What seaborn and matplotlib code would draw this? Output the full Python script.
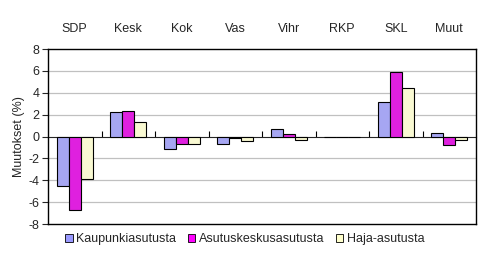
import matplotlib
matplotlib.use("Agg")
import matplotlib.pyplot as plt
import seaborn as sns
import pandas as pd
from matplotlib.patches import Patch

parties = ["SDP", "Kesk", "Kok", "Vas", "Vihr", "RKP", "SKL", "Muut"]
series_names = ["Kaupunkiasutusta", "Asutuskeskusasutusta", "Haja-asutusta"]
kaupunki = [-4.5, 2.25, -1.1, -0.65, 0.73, 0.0, 3.17, 0.33]
asutuskeskus = [-6.7, 2.35, -0.67, -0.1, 0.25, 0.0, 5.94, -0.76]
haja = [-3.9, 1.3, -0.65, -0.4, -0.3, 0.0, 4.45, -0.27]
colors = ["#9999FF", "#FF00FF", "#FFFFCC"]
yticks = [8, 6, 4, 2, 0, -2, -4, -6, -8]

sns.set_style("white")
plt.rcParams["font.family"] = ["Liberation Sans", "DejaVu Sans"]
plt.rcParams["axes.unicode_minus"] = False
FS = 9

rows = []
for name, vals in zip(series_names, [kaupunki, asutuskeskus, haja]):
    for p, v in zip(parties, vals):
        rows.append({"Puolue": p, "Alue": name, "Muutos": v})
df = pd.DataFrame(rows)

fig = plt.figure(figsize=(4.82, 2.57), dpi=100)
ax = fig.add_axes([0.0996, 0.128, 0.888, 0.681])

sns.barplot(data=df, x="Puolue", y="Muutos", hue="Alue", order=parties,
            hue_order=series_names, palette=colors, width=0.67, gap=0,
            edgecolor="black", linewidth=0.8, ax=ax, legend=False, errorbar=None)

ax.set_ylim(-8, 8)
ax.set_xlim(-0.5, len(parties) - 0.5)
ax.set_yticks(yticks)
ax.set_yticklabels([str(t) for t in yticks], fontsize=FS)
for t in yticks:
    if t not in (8, -8, 0):
        ax.axhline(t, color="#C0C0C0", linewidth=0.9, zorder=0)
ax.set_axisbelow(True)
ax.tick_params(axis="y", direction="out", length=4, width=0.8, pad=2, left=True)
ax.set_xticks([])
ax.set_xlabel("")
ax.set_ylabel("Muutokset (%)", fontsize=FS, labelpad=3)
for s in ax.spines.values():
    s.set_visible(True)
    s.set_color("black")
    s.set_linewidth(1.0)

# category names along the top
top = ax.secondary_xaxis("top")
top.set_xticks(range(len(parties)))
top.set_xticklabels(parties, fontsize=FS)
top.tick_params(length=0, pad=10)
top.spines["top"].set_visible(False)

# zero axis line with boundary ticks
zero = ax.secondary_xaxis(0.5)
zero.set_xticks([i + 0.5 for i in range(len(parties) - 1)])
zero.set_xticklabels([])
zero.tick_params(direction="out", length=4, width=0.8, color="black")
zero.spines["bottom"].set_color("black")
zero.spines["bottom"].set_linewidth(1.0)

handles = [Patch(facecolor=c, edgecolor="black", linewidth=0.6) for c in colors]
fig.legend(handles, series_names, loc="center", bbox_to_anchor=(0.508, 18 / 257),
           ncol=3, frameon=False, fontsize=FS, handlelength=0.6, handleheight=0.6,
           handletextpad=0.3, columnspacing=0.9, borderaxespad=0.0, borderpad=0.0)

fig.savefig("out.png", dpi=100)
